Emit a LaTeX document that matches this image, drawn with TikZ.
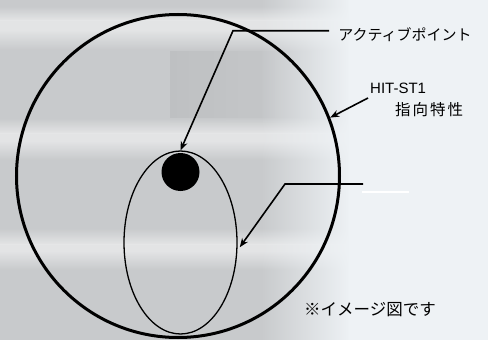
\documentclass[tikz,border=0pt]{standalone}
\usepackage{fontspec}
\setmainfont{Liberation Sans}
\newfontfamily\jp{Noto Sans CJK JP}
\usetikzlibrary{arrows.meta,shapes.geometric,fadings}
\definecolor{bgc}{HTML}{EEF2F5}
\definecolor{photo}{HTML}{C8CACC}
\definecolor{photodark}{HTML}{BBBDBF}
\definecolor{band}{HTML}{E6E7E8}
\tikzfading[name=fadetoright, left color=transparent!100, right color=transparent!0]
\begin{document}
\begin{tikzpicture}[x=1pt,y=-1pt,
  arr/.style={line width=1.6pt,-{Stealth[length=9pt,width=7pt]}},
  lbl/.style={inner sep=0pt,font=\fontsize{15pt}{17pt}\selectfont}]
\useasboundingbox (0,0) rectangle (488,340);
% background photo approximation
\fill[bgc] (0,0) rectangle (488,340);
\fill[photo] (0,0) rectangle (350,340);
\shade[left color=photodark,right color=photo,opacity=0.7] (170,50) rectangle (330,122);
\shade[top color=photo,bottom color=band,opacity=0.9] (0,6) rectangle (350,20);
\fill[band,opacity=0.9] (0,20) rectangle (350,30);
\shade[top color=band,bottom color=photo,opacity=0.9] (0,30) rectangle (350,50);
\shade[top color=photo,bottom color=band,opacity=0.9] (0,118) rectangle (350,133);
\fill[band,opacity=0.9] (0,133) rectangle (350,141);
\shade[top color=band,bottom color=photo,opacity=0.9] (0,141) rectangle (350,160);
\shade[top color=photo,bottom color=band,opacity=0.9] (0,228) rectangle (350,244);
\fill[band,opacity=0.9] (0,244) rectangle (350,251);
\shade[top color=band,bottom color=photo,opacity=0.9] (0,251) rectangle (350,270);
\fill[bgc,path fading=fadetoright] (260,0) rectangle (350,340);
\fill[bgc] (349,0) rectangle (488,340);
% main shapes
\node[circle,draw,line width=3pt,minimum size=323pt,inner sep=0pt] (big) at (178,176) {};
\node[ellipse,draw,line width=1.3pt,minimum width=113pt,minimum height=183pt,inner sep=0pt] (ell) at (180.5,242.5) {};
\node[circle,fill=black,minimum size=38pt,inner sep=0pt] (dot) at (180.5,172) {};
% labels
\node[lbl,font=\jp\fontsize{15pt}{17pt}\selectfont] (lapt) at (405,35) {アクティブポイント};
\node[lbl,anchor=west] (lhit) at (370,88) {HIT-ST1};
\node[lbl,anchor=west,font=\jp\fontsize{15.5pt}{17pt}\selectfont] (lsis) at (395,110) {指\kern2pt 向\kern2pt 特\kern2pt 性};
\node[lbl,font=\jp\fontsize{16.5pt}{18pt}\selectfont] (lnote) at (370,310) {※イメージ図です};
% connectors
\coordinate (a1s) at (329,30.7);
\coordinate (a1k) at (233,30.7);
\draw[arr] (a1s) -- (a1k) -- (ell.north);
\coordinate (a2s) at (368,98);
\draw[arr] (a2s) -- (big.21);
\coordinate (a3s) at (363,184);
\coordinate (a3k) at (285,184);
\draw[arr,shorten >=4pt] (a3s) -- (a3k) -- (ell.-8);
\coordinate (w1) at (362,192);
\coordinate (w2) at (409,192);
\draw[white,line width=1.5pt] (w1) -- (w2);
\end{tikzpicture}
\end{document}
